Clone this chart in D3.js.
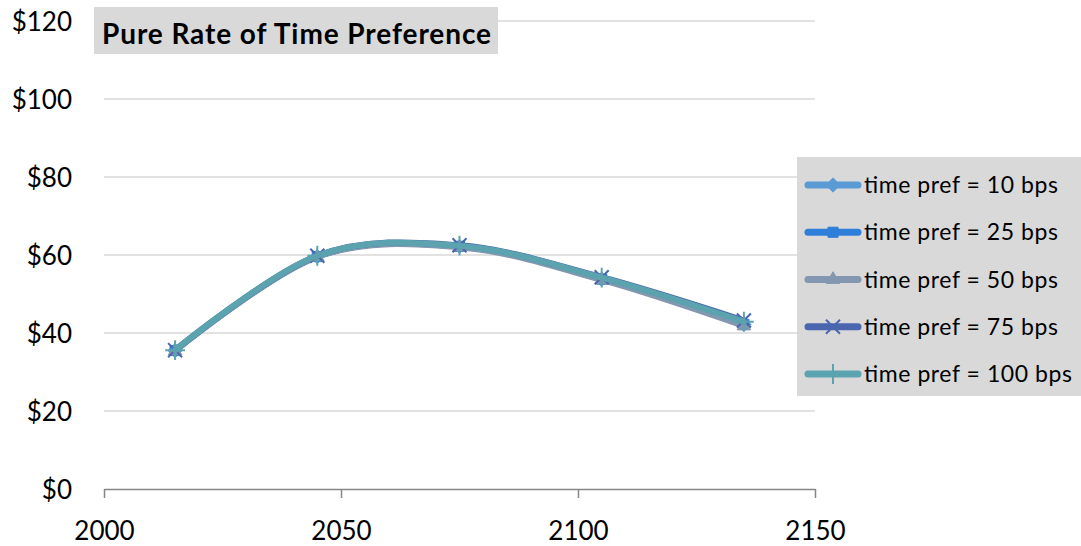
<!DOCTYPE html>
<html>
<head>
<meta charset="utf-8">
<script src="https://cdn.jsdelivr.net/npm/d3@7"></script>
<style>
  body { margin: 0; background: #fff; }
  svg { font-family: Lato, "Open Sans", sans-serif; }
</style>
</head>
<body>
<div id="chart"></div>
<script>
// data
const years = [2015, 2045, 2075, 2105, 2135];
const seriesNames = ["time pref = 10 bps", "time pref = 25 bps", "time pref = 50 bps", "time pref = 75 bps", "time pref = 100 bps"];
const pref10 = [35.5, 59.6, 62.2, 53.8, 42.2];
const pref25 = [35.5, 59.6, 62.2, 53.8, 42.2];
const pref50 = [35.4, 59.5, 62.0, 53.6, 41.8];
const pref75 = [35.6, 59.8, 62.5, 54.3, 43.2];
const pref100 = [35.6, 59.8, 62.4, 54.2, 42.9];
const xTicks = [2000, 2050, 2100, 2150];
const yTicks = [0, 20, 40, 60, 80, 100, 120];

const colors = ["#5b9bd5", "#2e7fd9", "#8497b0", "#4a66ae", "#5ba3ae"];
const symbols = [d3.symbolDiamond2, d3.symbolSquare2, d3.symbolTriangle2, d3.symbolX, d3.symbolPlus];

const allSeries = [pref10, pref25, pref50, pref75, pref100].map((vals, i) => ({
    name: seriesNames[i],
    color: colors[i],
    symbol: symbols[i],
    values: vals.map((v, j) => ({year: years[j], value: v}))
}));

const W = 1081, H = 546;
const margin = {top: 21, right: 266, bottom: 57, left: 104};

const svg = d3.select("#chart").append("svg")
    .attr("width", W)
    .attr("height", H);

const x = d3.scaleLinear().domain([2000, 2150]).range([margin.left, W - margin.right]);
const y = d3.scaleLinear().domain([0, 120]).range([H - margin.bottom, margin.top]);

const isOpen = s => s === d3.symbolX || s === d3.symbolPlus;

// gridlines
svg.append("g")
    .selectAll("line")
    .data(yTicks.filter(d => d > 0))
    .join("line")
    .attr("x1", x(2000))
    .attr("x2", x(2150))
    .attr("y1", d => y(d))
    .attr("y2", d => y(d))
    .attr("stroke", "#d9d9d9")
    .attr("stroke-width", 1.3);

// y labels
svg.append("g")
    .selectAll("text")
    .data(yTicks)
    .join("text")
    .attr("x", 72)
    .attr("y", d => y(d) + 9.5)
    .attr("text-anchor", "end")
    .attr("font-size", 26)
    .attr("fill", "#000")
    .text(d => "$" + d);

// x axis
const xAxis = svg.append("g")
    .attr("transform", "translate(0," + y(0) + ")")
    .call(d3.axisBottom(x).tickValues(xTicks).tickFormat(d3.format("d")).tickSize(9).tickSizeOuter(0));
xAxis.select(".domain").attr("stroke", "#868686").attr("stroke-width", 1.5);
xAxis.selectAll(".tick line").attr("stroke", "#868686").attr("stroke-width", 1.5);
xAxis.selectAll(".tick text")
    .attr("font-family", "Lato, sans-serif")
    .attr("font-size", 26)
    .attr("fill", "#000")
    .attr("y", 0)
    .attr("dy", null)
    .attr("transform", "translate(0,51)");

// lines
const line = d3.line()
    .curve(d3.curveCardinal.tension(0))
    .x(d => x(d.year))
    .y(d => y(d.value));

const seriesG = svg.append("g");

allSeries.forEach(s => {
    const g = seriesG.append("g");
    g.append("path")
        .datum(s.values)
        .attr("d", line)
        .attr("fill", "none")
        .attr("stroke", s.color)
        .attr("stroke-width", 6)
        .attr("stroke-linecap", "round");
    g.selectAll("path.marker")
        .data(s.values)
        .join("path")
        .attr("class", "marker")
        .attr("transform", d => "translate(" + x(d.year) + "," + y(d.value) + ")")
        .attr("d", d3.symbol().type(s.symbol).size(130))
        .attr("fill", isOpen(s.symbol) ? "none" : s.color)
        .attr("stroke", s.color)
        .attr("stroke-width", isOpen(s.symbol) ? 2 : 1);
});

// title
const titleG = svg.append("g");
titleG.append("rect")
    .attr("x", 94).attr("y", 7)
    .attr("width", 404).attr("height", 47)
    .attr("fill", "#d9d9d9");
titleG.append("text")
    .attr("x", 102).attr("y", 44)
    .attr("font-size", 28)
    .attr("font-weight", "bold")
    .attr("fill", "#000")
    .attr("textLength", 389)
    .attr("lengthAdjust", "spacing")
    .text("Pure Rate of Time Preference");

// legend
const legend = svg.append("g");
legend.append("rect")
    .attr("x", 797).attr("y", 157)
    .attr("width", 284).attr("height", 239)
    .attr("fill", "#d9d9d9");

const legRow = d3.scaleLinear().domain([0, 4]).range([185, 374]);

allSeries.forEach((s, i) => {
    const cy = legRow(i);
    const g = legend.append("g");
    g.append("line")
        .attr("x1", 808).attr("x2", 858)
        .attr("y1", cy).attr("y2", cy)
        .attr("stroke", s.color)
        .attr("stroke-width", 7)
        .attr("stroke-linecap", "round");
    g.append("path")
        .attr("transform", "translate(833," + cy + ")")
        .attr("d", d3.symbol().type(s.symbol).size(130))
        .attr("fill", isOpen(s.symbol) ? "none" : s.color)
        .attr("stroke", s.color)
        .attr("stroke-width", isOpen(s.symbol) ? 2 : 1);
    g.append("text")
        .attr("x", 864).attr("y", cy + 8)
        .attr("font-size", 23)
        .attr("fill", "#000")
        .attr("textLength", s.name.length > 18 ? 208 : 194)
        .attr("lengthAdjust", "spacing")
        .text(s.name);
});
</script>
</body>
</html>
